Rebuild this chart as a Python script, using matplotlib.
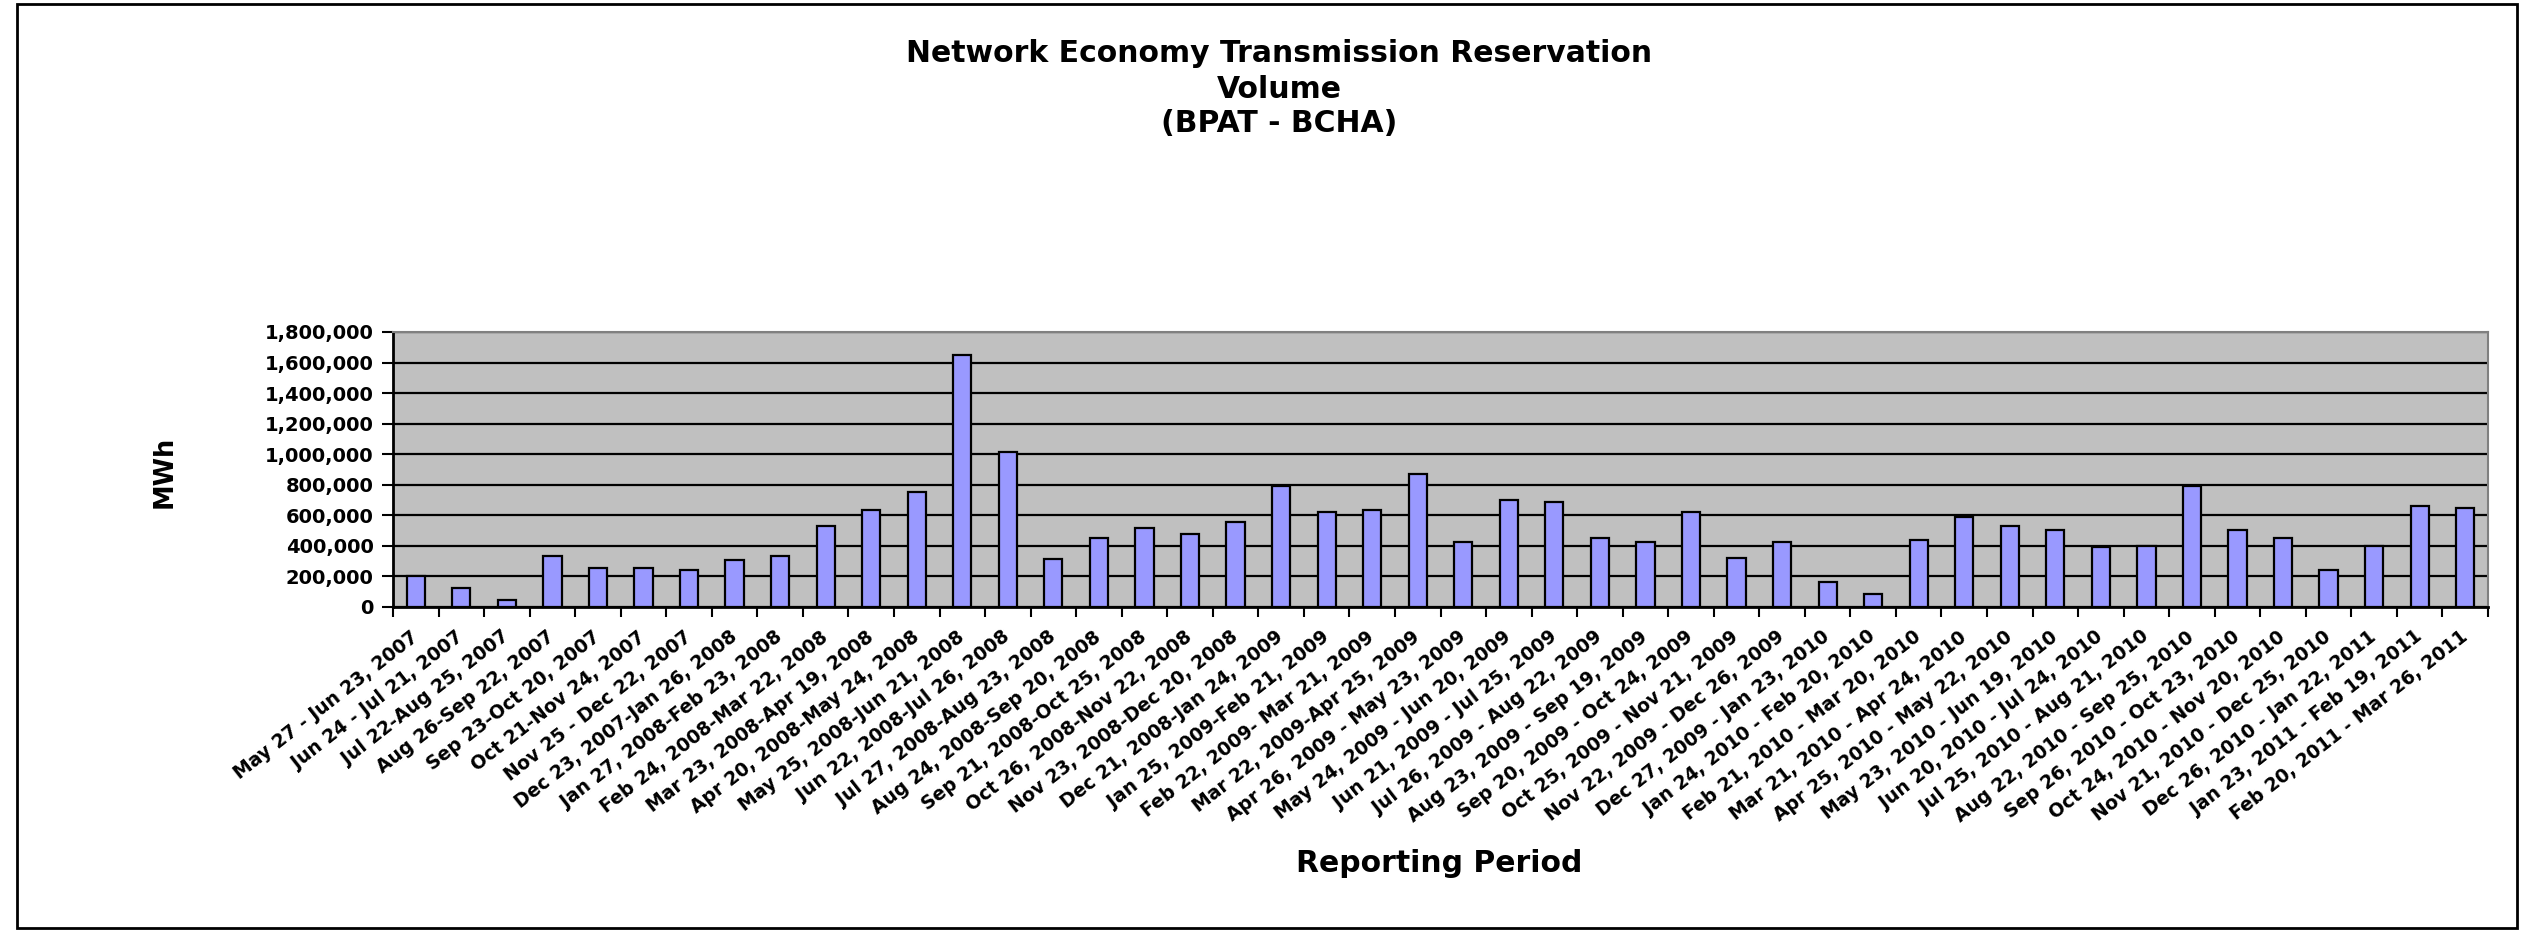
import matplotlib
matplotlib.use("Agg")
import matplotlib.pyplot as plt
from matplotlib.ticker import FuncFormatter, FixedLocator
from matplotlib.patches import Rectangle
import numpy as np

title_lines = ["Network Economy Transmission Reservation", "Volume", "(BPAT - BCHA)"]
x_label = "Reporting Period"
y_label = "MWh"

periods = [
    "May 27 - Jun 23, 2007", "Jun 24 - Jul 21, 2007", "Jul 22-Aug 25, 2007",
    "Aug 26-Sep 22, 2007", "Sep 23-Oct 20, 2007", "Oct 21-Nov 24, 2007",
    "Nov 25 - Dec 22, 2007", "Dec 23, 2007-Jan 26, 2008", "Jan 27, 2008-Feb 23, 2008",
    "Feb 24, 2008-Mar 22, 2008", "Mar 23, 2008-Apr 19, 2008", "Apr 20, 2008-May 24, 2008",
    "May 25, 2008-Jun 21, 2008", "Jun 22, 2008-Jul 26, 2008", "Jul 27, 2008-Aug 23, 2008",
    "Aug 24, 2008-Sep 20, 2008", "Sep 21, 2008-Oct 25, 2008", "Oct 26, 2008-Nov 22, 2008",
    "Nov 23, 2008-Dec 20, 2008", "Dec 21, 2008-Jan 24, 2009", "Jan 25, 2009-Feb 21, 2009",
    "Feb 22, 2009- Mar 21, 2009", "Mar 22, 2009-Apr 25, 2009", "Apr 26, 2009 - May 23, 2009",
    "May 24, 2009 - Jun 20, 2009", "Jun 21, 2009 - Jul 25, 2009", "Jul 26, 2009 - Aug 22, 2009",
    "Aug 23, 2009 - Sep 19, 2009", "Sep 20, 2009 - Oct 24, 2009", "Oct 25, 2009 - Nov 21, 2009",
    "Nov 22, 2009 - Dec 26, 2009", "Dec 27, 2009 - Jan 23, 2010", "Jan 24, 2010 - Feb 20, 2010",
    "Feb 21, 2010 - Mar 20, 2010", "Mar 21, 2010 - Apr 24, 2010", "Apr 25, 2010 - May 22, 2010",
    "May 23, 2010 - Jun 19, 2010", "Jun 20, 2010 - Jul 24, 2010", "Jul 25, 2010 - Aug 21, 2010",
    "Aug 22, 2010 - Sep 25, 2010", "Sep 26, 2010 - Oct 23, 2010", "Oct 24, 2010 - Nov 20, 2010",
    "Nov 21, 2010 - Dec 25, 2010", "Dec 26, 2010 - Jan 22, 2011", "Jan 23, 2011 - Feb 19, 2011",
    "Feb 20, 2011 - Mar 26, 2011",
]

volume_mwh = [
    202000, 126000, 48000, 333000, 257000, 257000, 241000, 309000, 333000, 528000,
    633000, 750000, 1652000, 1013000, 311000, 452000, 517000, 478000, 559000, 792000,
    622000, 635000, 870000, 426000, 700000, 687000, 452000, 426000, 622000, 322000,
    426000, 165000, 87000, 439000, 591000, 530000, 504000, 391000, 400000, 792000,
    504000, 452000, 243000, 400000, 661000, 648000,
]

y_ticks = [0, 200000, 400000, 600000, 800000, 1000000, 1200000, 1400000, 1600000, 1800000]

W, H = 2521, 932
fig = plt.figure(figsize=(W / 100, H / 100), dpi=100)
fig.patch.set_facecolor("white")

# outer frame
fig.patches.append(Rectangle((17 / W, 4 / H), (2517 - 17) / W, (928 - 4) / H,
                             transform=fig.transFigure, fill=False,
                             edgecolor="black", linewidth=2))

left, right = 393 / W, 2488 / W
top, bottom = 1 - 332 / H, 1 - 607 / H
ax = fig.add_axes([left, bottom, right - left, top - bottom])
ax.set_facecolor("#C0C0C0")

x = np.arange(len(volume_mwh))
ax.bar(x, volume_mwh, width=0.4, color="#9999FF", edgecolor="black", linewidth=1.6, zorder=3)

ax.set_xlim(-0.5, len(volume_mwh) - 0.5)
ax.set_ylim(0, 1800000)
ax.set_yticks(y_ticks)
ax.yaxis.set_major_formatter(FuncFormatter(lambda v, p: f"{int(v):,}"))
ax.grid(axis="y", color="black", linewidth=1.6, zorder=1)
ax.set_axisbelow(True)

for lab in ax.get_yticklabels():
    lab.set_fontweight("bold")
    lab.set_fontsize(14)
ax.tick_params(axis="y", length=8, width=1.5, direction="out", pad=6)

# x ticks: labels at centres (no tick), marks at boundaries
ax.set_xticks(x)
ax.set_xticklabels(periods, rotation=38, ha="right", va="center",
                   rotation_mode="anchor", fontsize=13.5, fontweight="bold")
ax.tick_params(axis="x", which="major", length=0, pad=20)
ax.xaxis.set_minor_locator(FixedLocator(np.arange(-0.5, len(volume_mwh), 1.0)))
ax.tick_params(axis="x", which="minor", length=7, width=1.5, direction="out")

for s in ["left", "bottom"]:
    ax.spines[s].set_color("black")
    ax.spines[s].set_linewidth(2)
for s in ["top", "right"]:
    ax.spines[s].set_color("#808080")
    ax.spines[s].set_linewidth(1.5)

# titles
ty = [54, 89, 124]
for line, yy in zip(title_lines, ty):
    fig.text(1279 / W, 1 - yy / H, line, ha="center", va="center",
             fontsize=21.5, fontweight="bold")

fig.text(165 / W, 1 - 472 / H, y_label, rotation=90, ha="center", va="center",
         fontsize=18.5, fontweight="bold")
fig.text(1439 / W, 1 - 864 / H, x_label, ha="center", va="center",
         fontsize=21.5, fontweight="bold")

fig.savefig("out.png", dpi=100)
